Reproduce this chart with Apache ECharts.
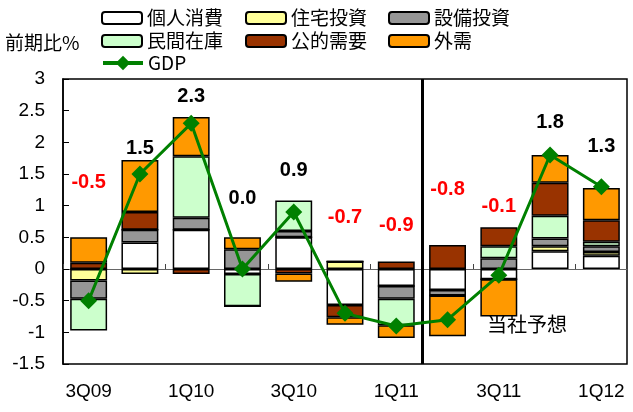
<!DOCTYPE html>
<html>
<head>
<meta charset="utf-8">
<script src="https://cdn.jsdelivr.net/npm/echarts@6/dist/echarts.min.js"></script>
<style>
  html, body { margin: 0; padding: 0; background: #fff; }
  #main { width: 633px; height: 412px; }
</style>
</head>
<body>
<div id="main"></div>
<script>
// quarters
var categories = ['3Q09', '4Q09', '1Q10', '2Q10', '3Q10', '4Q10', '1Q11', '2Q11', '3Q11', '4Q11', '1Q12'];

// contributions (percentage points)
var consumption = [0, 0.42, 0.62, -0.08, 0.5, -0.57, -0.27, -0.33, -0.16, 0.28, 0.21];
var housing     = [-0.18, -0.08, 0, 0, 0, 0.12, 0, 0, 0, 0.08, 0.06];
var capex       = [-0.29, 0.2, 0.19, 0.31, 0.1, 0, -0.2, -0.09, 0.17, 0.12, 0.09];
var inventory   = [-0.5, 0, 0.97, -0.51, 0.48, 0, -0.42, 0, 0.19, 0.36, 0.07];
var government  = [0.1, 0.28, -0.08, 0, -0.07, -0.19, 0.12, 0.38, 0.3, 0.52, 0.34];
var netExports  = [0.4, 0.82, 0.62, 0.19, -0.13, -0.12, -0.2, -0.64, -0.59, 0.44, 0.51];
var gdp         = [-0.5, 1.5, 2.3, 0.0, 0.9, -0.7, -0.9, -0.8, -0.1, 1.8, 1.3];

// where each GDP figure is written (value-axis height)
var gdpLabelY = [1.36, 1.91, 2.72, 1.12, 1.56, 0.81, 0.68, 1.25, 0.98, 2.32, 1.94];

var yTicks = [3, 2.5, 2, 1.5, 1, 0.5, 0, -0.5, -1, -1.5];
var forecastFrom = 7; // forecasts start after 1Q11

var cjk = '"Noto Sans CJK JP", "Liberation Sans", sans-serif';
var sans = '"Liberation Sans", Arial, sans-serif';

var chart = echarts.init(document.getElementById('main'));

function barSeries(name, data, color) {
  return {
    name: name,
    type: 'bar',
    stack: 'total',
    barWidth: '72%',
    data: data,
    itemStyle: { color: color, borderColor: '#000', borderWidth: 1.5 },
    emphasis: { disabled: true }
  };
}

var legendText = { fontFamily: cjk, fontSize: 19, color: '#000', lineHeight: 20 };

var option = {
  backgroundColor: '#fff',
  animation: false,
  legend: [
    {
      orient: 'vertical', left: 96, top: 3, itemGap: 3,
      itemWidth: 40, itemHeight: 12, textStyle: legendText,
      data: ['個人消費', '民間在庫']
    },
    {
      left: 96, top: 48,
      itemWidth: 40, itemHeight: 18, textStyle: legendText,
      lineStyle: { width: 4 },
      data: ['GDP']
    },
    {
      orient: 'vertical', left: 240, top: 3, itemGap: 3,
      itemWidth: 40, itemHeight: 12, textStyle: legendText,
      data: ['住宅投資', '公的需要']
    },
    {
      orient: 'vertical', left: 383, top: 3, itemGap: 3,
      itemWidth: 40, itemHeight: 12, textStyle: legendText,
      data: ['設備投資', '外需']
    }
  ],
  grid: {
    left: 63, right: 6, top: 79, bottom: 48,
    show: true, borderColor: '#000', borderWidth: 1.5
  },
  xAxis: [
    {
      type: 'category',
      data: categories,
      position: 'bottom',
      axisLine: { onZero: true, lineStyle: { color: '#666', width: 1 } },
      axisTick: { show: true, inside: true, length: 5, interval: 1, lineStyle: { color: '#444' } },
      axisLabel: { show: false },
      splitLine: { show: false }
    },
    {
      type: 'category',
      data: categories,
      position: 'bottom',
      axisLine: { show: false, onZero: false },
      axisTick: { show: false },
      axisLabel: {
        interval: 1, margin: 18,
        fontFamily: sans, fontSize: 19, color: '#000'
      }
    },
    {
      type: 'value', min: 0, max: categories.length, show: false
    }
  ],
  yAxis: {
    type: 'value',
    min: yTicks[yTicks.length - 1],
    max: yTicks[0],
    interval: 0.5,
    axisLine: { show: true, lineStyle: { color: '#000', width: 1.5 } },
    axisTick: { show: true, inside: true, length: 6, lineStyle: { color: '#000' } },
    axisLabel: { margin: 18, fontFamily: sans, fontSize: 19, color: '#000' },
    splitLine: { show: false }
  },
  graphic: [
    {
      type: 'text', left: 5, top: 33,
      style: { text: '前期比%', fontFamily: cjk, fontSize: 19, fill: '#000' }
    },
    {
      type: 'text', left: 487, top: 314,
      style: { text: '当社予想', fontFamily: cjk, fontSize: 20, fill: '#000' }
    }
  ],
  series: [
    barSeries('個人消費', consumption, '#ffffff'),
    barSeries('住宅投資', housing, '#ffff99'),
    barSeries('設備投資', capex, '#969696'),
    barSeries('民間在庫', inventory, '#ccffcc'),
    barSeries('公的需要', government, '#993300'),
    barSeries('外需', netExports, '#ff9900'),
    {
      name: 'GDP',
      type: 'line',
      data: gdp,
      symbol: 'diamond',
      symbolSize: 17,
      itemStyle: { color: '#008000' },
      lineStyle: { color: '#008000', width: 3 },
      emphasis: { disabled: true },
      z: 5
    },
    {
      name: 'labels',
      type: 'scatter',
      symbolSize: 0,
      itemStyle: { opacity: 1 },
      emphasis: { disabled: true },
      data: gdp.map(function (v, i) {
        return {
          value: [i, gdpLabelY[i]],
          label: { color: v < 0 ? '#ff0000' : '#000000' }
        };
      }),
      label: {
        show: true,
        position: 'inside',
        fontFamily: sans,
        fontSize: 20,
        fontWeight: 'bold',
        opacity: 1,
        formatter: function (p) { return gdp[p.dataIndex].toFixed(1); }
      },
      z: 6
    },
    {
      name: 'forecast',
      type: 'line',
      xAxisIndex: 2,
      data: [],
      markLine: {
        silent: true,
        symbol: 'none',
        label: { show: false },
        lineStyle: { color: '#000', width: 3, type: 'solid' },
        data: [{ xAxis: forecastFrom }]
      }
    }
  ]
};

chart.setOption(option);
</script>
</body>
</html>
